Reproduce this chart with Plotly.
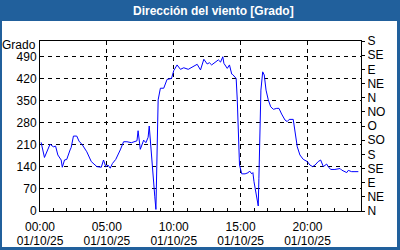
import plotly.graph_objects as go

# ---- data ----
times = ["00:05","00:20","00:45","01:00","01:10","01:20","01:35","01:40","01:50","02:00",
         "02:15","02:20","02:30","02:45","02:55","03:10","03:30","03:50","04:15","04:35",
         "04:45","04:55","05:05","05:15","05:25","05:40","06:00","06:15","06:30","06:50",
         "07:15","07:20","07:30","07:45","07:55","08:05","08:10","08:20","08:30","08:35",
         "08:40","08:45","08:50","09:00","09:15","09:30","09:50","10:00","10:15","10:30",
         "10:45","11:05","11:30","11:45","12:00","12:15","12:30","12:40","12:50","13:05",
         "13:20","13:30","13:40","13:45","14:00","14:10","14:20","14:25","14:40","14:45",
         "14:50","14:55","15:05","15:20","15:35","15:40","15:50","15:55","16:00","16:10",
         "16:19","16:22","16:27","16:31","16:39","16:46","16:54","17:04","17:15","17:27",
         "17:42","17:52","18:04","18:19","18:29","18:38","18:56","19:04","19:14","19:26",
         "19:41","19:59","20:11","20:23","20:34","20:48","20:59","21:11","21:26","21:33",
         "21:44","22:03","22:26","22:33","22:56","23:03","23:18","23:33","23:48"]
values = [218,170,212,204,206,178,162,139,162,164,
          194,202,238,238,222,210,188,157,141,139,
          162,141,146,136,151,164,194,220,220,217,
          223,255,196,225,217,234,270,167,77,45,
          5,194,353,390,390,418,421,446,464,450,
          455,450,460,466,448,482,467,471,464,471,
          480,473,490,469,453,464,435,433,421,353,
          215,146,118,118,122,127,118,122,93,56,
          16,104,273,384,442,432,384,353,331,323,
          326,326,308,289,284,291,291,257,204,178,
          164,157,146,141,146,157,162,141,149,141,
          132,132,135,130,122,129,125,125,125]

day = "2025-10-01"
x_ticks = ["00:00", "05:00", "10:00", "15:00", "20:00"]
x_tick_date = "01/10/25"
left_ticks = [0, 70, 140, 210, 280, 350, 420, 490]
right_ticks = [0, 45, 90, 135, 180, 225, 270, 315, 360, 405, 450, 495, 540]
right_labels = ["N", "NE", "E", "SE", "S", "SO", "O", "NO", "N", "NE", "E", "SE", "S"]

title = "Dirección del viento [Grado]"
y_title = "Grado"

# ---- figure ----
W, H = 400, 250
BLUE = "#21609c"
FONT = "Liberation Sans"

xs = [f"{day} {t}" for t in times]
x_range = [f"{day} 00:00", "2025-10-02 00:00"]
x_tickvals = [f"{day} {t}" for t in x_ticks]

fig = go.Figure()
fig.add_trace(go.Scatter(x=xs, y=values, mode="lines",
                         line=dict(color="#0000ff", width=1), xaxis="x", yaxis="y",
                         hoverinfo="skip", showlegend=False))
# invisible helper traces for the right axis and the date-label axis
fig.add_trace(go.Scatter(x=[xs[0]], y=[0], mode="markers", marker=dict(opacity=0),
                         xaxis="x", yaxis="y2", hoverinfo="skip", showlegend=False))
fig.add_trace(go.Scatter(x=[xs[0]], y=[0], mode="markers", marker=dict(opacity=0),
                         xaxis="x2", yaxis="y", hoverinfo="skip", showlegend=False))

x0, x1 = 40, 361
y_top, y_bot = 41, 211

fig.update_layout(
    width=W, height=H,
    margin=dict(l=0, r=0, t=0, b=0, pad=0, autoexpand=False),
    paper_bgcolor=BLUE,
    plot_bgcolor="rgba(0,0,0,0)",
    font=dict(family=FONT, size=12, color="black"),
    xaxis=dict(
        type="date", automargin=False,
        domain=[x0 / W, x1 / W],
        range=x_range,
        tickvals=x_tickvals,
        ticktext=x_ticks,
        showgrid=True, gridcolor="black", griddash="4px,4px", gridwidth=1,
        showline=True, linecolor="black", linewidth=1, mirror=True,
        ticks="inside", ticklen=3, tickcolor="black",
        minor=dict(dtick=3600000, ticks="inside", ticklen=3, tickcolor="black", showgrid=False),
        ticklabelstandoff=5,
        zeroline=False, fixedrange=True,
    ),
    xaxis2=dict(
        type="date", automargin=False,
        overlaying="x", anchor="y", side="bottom",
        range=x_range,
        tickvals=x_tickvals,
        ticktext=[x_tick_date] * len(x_ticks),
        showgrid=False, showline=False, ticks="",
        ticklabelstandoff=21,
        zeroline=False, fixedrange=True,
    ),
    yaxis=dict(
        automargin=False,
        domain=[(H - y_bot) / H, (H - y_top) / H],
        range=[0, 540],
        tickvals=left_ticks,
        showgrid=True, gridcolor="black", griddash="4px,4px", gridwidth=1,
        showline=True, linecolor="black", linewidth=1,
        ticks="", zeroline=False, ticklabelstandoff=0,
    ),
    yaxis2=dict(
        automargin=False,
        overlaying="y", side="right", anchor="x",
        range=[0, 540],
        tickvals=right_ticks, ticktext=right_labels,
        showgrid=False, showline=True, linecolor="black", linewidth=1,
        ticks="outside", ticklen=3, tickcolor="black", zeroline=False,
        ticklabelstandoff=0,
    ),
    shapes=[dict(type="rect", xref="paper", yref="paper",
                 x0=2 / W, x1=397 / W, y0=3 / H, y1=(H - 21) / H,
                 fillcolor="white", line=dict(width=0), layer="below")],
    annotations=[
        dict(text=f"<b>{title}</b>", xref="paper", yref="paper",
             x=213 / W, y=(H - 10.5) / H, xanchor="center", yanchor="middle",
             showarrow=False, font=dict(family=FONT, size=12, color="white")),
        dict(text=y_title, xref="paper", yref="paper",
             x=38 / W, y=(H - 44.5) / H, xanchor="right", yanchor="middle",
             showarrow=False, font=dict(family=FONT, size=12, color="black")),
    ],
)

fig.write_html("out.html")
